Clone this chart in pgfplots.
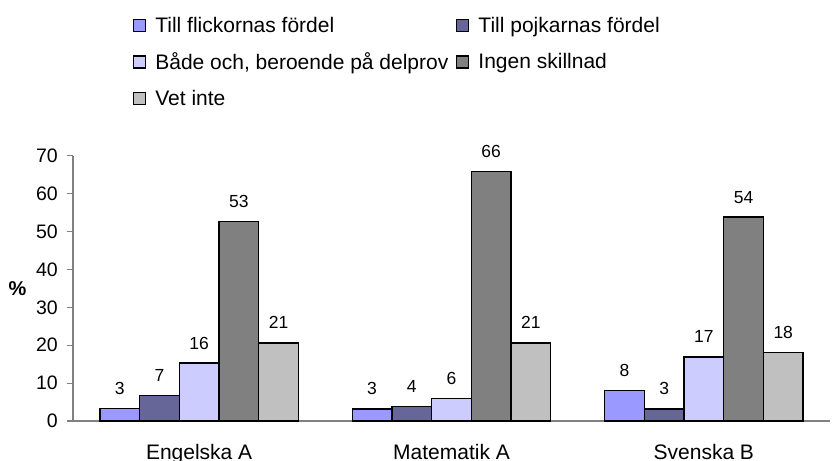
\documentclass[border=0pt]{standalone}
\usepackage{fontspec}
\setmainfont{Liberation Sans}
\usepackage{pgfplots}
\pgfplotsset{compat=1.18}

\definecolor{flick}{HTML}{9999FF}
\definecolor{pojk}{HTML}{666699}
\definecolor{bade}{HTML}{CCCCFF}
\definecolor{ingen}{HTML}{808080}
\definecolor{vet}{HTML}{C0C0C0}
\definecolor{axgray}{HTML}{808080}

\begin{document}
\begin{tikzpicture}
\begin{axis}[
    at={(0pt,0pt)}, anchor=south west,
    scale only axis, width=757pt, height=265.3pt,
    clip=false,
    ymin=0, ymax=70, ytick={0,10,...,70},
    xmin=-0.5, xmax=2.5, xtick={0,1,2},
    xticklabels={Engelska A, Matematik A, Svenska B},
    ybar=0pt, bar width=39.7pt,
    axis x line*=bottom, axis y line*=left,
    axis line style={draw=axgray, line width=1.2pt},
    tick style={draw=axgray, line width=1.2pt},
    tick align=outside,
    major tick length=6pt,
    x tick style={draw=none},
    extra x ticks={0.5,1.5},
    extra x tick labels={},
    extra x tick style={tick style={draw=axgray, line width=1.2pt}, major tick length=5pt},
    /pgf/number format/assume math mode=true,
    yticklabel style={font=\fontsize{19.5}{22}\selectfont, inner sep=0pt, xshift=-9pt},
    xticklabel style={font=\fontsize{21}{25}\selectfont, inner sep=0pt, yshift=-17pt},
    ylabel={\textbf{\%}},
    every axis y label/.style={at={(rel axis cs:0,0.5)}, anchor=east, xshift=-43pt,
        font=\fontsize{20}{24}\selectfont},
    point meta=explicit symbolic,
    nodes near coords,
    nodes near coords style={font=\fontsize{17.5}{20}\selectfont, anchor=base, yshift=14pt, inner sep=0pt},
    every axis plot/.append style={draw=black, line width=1.3pt},
    legend columns=2,
    legend style={draw=none, fill=none, at={(0.0793,1.527)}, anchor=north west,
        font=\fontsize{21}{26}\selectfont, inner sep=0pt,
        nodes={inner sep=1pt, anchor=west},
        /tikz/every odd column/.append style={column sep=8pt},
        /tikz/every even column/.append style={column sep=7pt},
        row sep=17pt},
    legend image code/.code={\draw[#1, draw=black, line width=1.1pt] (0pt,-6pt) rectangle (12pt,6pt);},
    legend cell align=left,
]
\addplot[fill=flick] coordinates {(0,3.3) [3] (1,3.2) [3] (2,8.0) [8]};
\addlegendentry{Till flickornas fördel}
\addplot[fill=pojk] coordinates {(0,6.8) [7] (1,3.8) [4] (2,3.2) [3]};
\addlegendentry{Till pojkarnas fördel}
\addplot[fill=bade] coordinates {(0,15.3) [16] (1,6.0) [6] (2,16.9) [17]};
\addlegendentry{Både och, beroende på delprov}
\addplot[fill=ingen] coordinates {(0,52.7) [53] (1,65.9) [66] (2,53.8) [54]};
\addlegendentry{Ingen skillnad}
\addplot[fill=vet] coordinates {(0,20.6) [21] (1,20.6) [21] (2,18.0) [18]};
\addlegendentry{Vet inte}
\end{axis}
\pgfresetboundingbox
\path[use as bounding box] (-73pt,-40pt) rectangle (766pt,421pt);
\end{tikzpicture}
\end{document}
